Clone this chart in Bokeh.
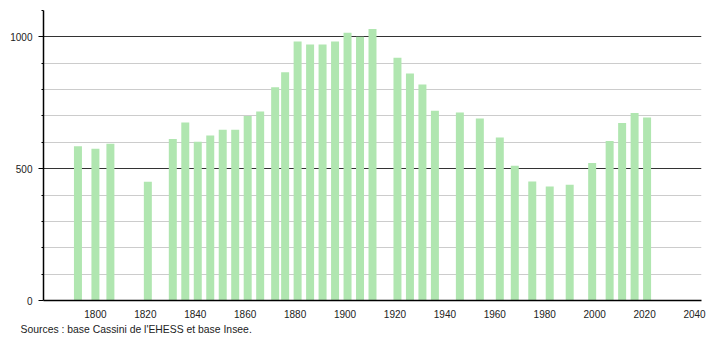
from bokeh.plotting import figure
from bokeh.models import FixedTicker, Grid, Range1d, Title
from bokeh.embed import file_html
from bokeh.resources import INLINE

years = [1793, 1800, 1806, 1821, 1831, 1836, 1841, 1846, 1851, 1856, 1861, 1866,
         1872, 1876, 1881, 1886, 1891, 1896, 1901, 1906, 1911, 1921, 1926, 1931,
         1936, 1946, 1954, 1962, 1968, 1975, 1982, 1990, 1999, 2006, 2011, 2016, 2021]
population = [585, 576, 595, 450, 613, 675, 602, 626, 648, 648, 700, 717,
              809, 866, 982, 971, 971, 982, 1016, 1000, 1030, 921, 861, 819,
              720, 713, 690, 618, 511, 451, 432, 439, 522, 605, 673, 711, 694]
x_ticks = [1800, 1820, 1840, 1860, 1880, 1900, 1920, 1940, 1960, 1980, 2000, 2020, 2040]
y_major = [0, 500, 1000]
y_minor = [100, 200, 300, 400, 600, 700, 800, 900, 1100]
source_text = "Sources : base Cassini de l'EHESS et base Insee."

FONT = "Liberation Sans"

p = figure(width=710, height=340, output_backend="svg", toolbar_location=None,
           x_range=Range1d(1779.2, 2042.8), y_range=Range1d(0, 1100),
           min_border_left=43, min_border_right=9, min_border_top=10, min_border_bottom=40)
p.outline_line_color = None
p.background_fill_color = "white"
p.border_fill_color = "white"

p.vbar(x=years, top=population, width=3.2, fill_color="#b0e6b0", line_color=None)

# axes
p.xaxis.ticker = FixedTicker(ticks=x_ticks)
p.xaxis.major_tick_line_color = None
p.xaxis.minor_tick_line_color = None
p.xaxis.axis_line_color = "black"
p.xaxis.axis_line_width = 1.5
p.xaxis.major_label_standoff = 3
p.xaxis.major_label_text_font = FONT
p.xaxis.major_label_text_font_size = "10px"
p.xaxis.major_label_text_color = "#222222"

p.yaxis.ticker = FixedTicker(ticks=y_major, minor_ticks=y_minor)
p.yaxis.axis_line_color = "black"
p.yaxis.axis_line_width = 1.5
p.yaxis.major_tick_out = 5
p.yaxis.major_tick_in = 0
p.yaxis.minor_tick_out = 2
p.yaxis.minor_tick_in = 0
p.yaxis.major_tick_line_color = "black"
p.yaxis.minor_tick_line_color = "black"
p.yaxis.major_label_standoff = 6
p.yaxis.major_label_text_font = FONT
p.yaxis.major_label_text_font_size = "10px"
p.yaxis.major_label_text_color = "#222222"

# grids
p.xgrid.grid_line_color = None
p.ygrid.ticker = FixedTicker(ticks=y_minor)
p.ygrid.grid_line_color = "#cccccc"
p.ygrid.grid_line_width = 1
major_grid = Grid(dimension=1, ticker=FixedTicker(ticks=[500, 1000]),
                  grid_line_color="#333333", grid_line_width=1)
p.add_layout(major_grid)

p.add_layout(Title(text=source_text, align="left", offset=-23,
                   text_font=FONT, text_font_size="10.4px", text_font_style="normal",
                   text_color="#222222", standoff=2), "below")

open("out.html", "w").write(file_html(p, INLINE))
